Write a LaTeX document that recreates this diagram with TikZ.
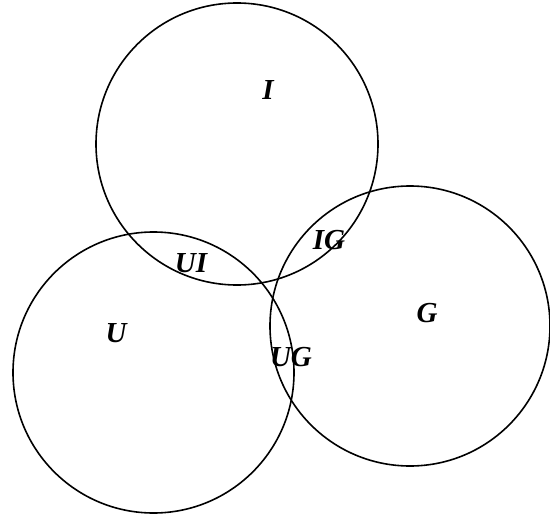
\documentclass[tikz,border=0pt]{standalone}
\usepackage{fontspec}
\setmainfont{Liberation Serif}
\begin{document}
\begin{tikzpicture}[x=1pt,y=-1pt,
  ring/.style={draw=black,line width=1.6pt,circle,inner sep=0pt,minimum size=#1},
  lab/.style={font=\fontsize{29}{29}\selectfont\bfseries\itshape,inner sep=0pt}]
\useasboundingbox (0,0) rectangle (550,514);
\node[ring=282pt] (ci) at (237,144) {};
\node[ring=281pt] (cu) at (153.5,372.5) {};
\node[ring=280pt] (cg) at (410,326) {};
\node[lab] (li) at (268,90) {I};
\node[lab] (lui) at (191,263) {UI};
\node[lab] (lig) at (329,240) {IG};
\node[lab] (lu) at (116,333) {U};
\node[lab] (lg) at (427,313) {G};
\node[lab] (lug) at (291,357) {UG};
\end{tikzpicture}
\end{document}
